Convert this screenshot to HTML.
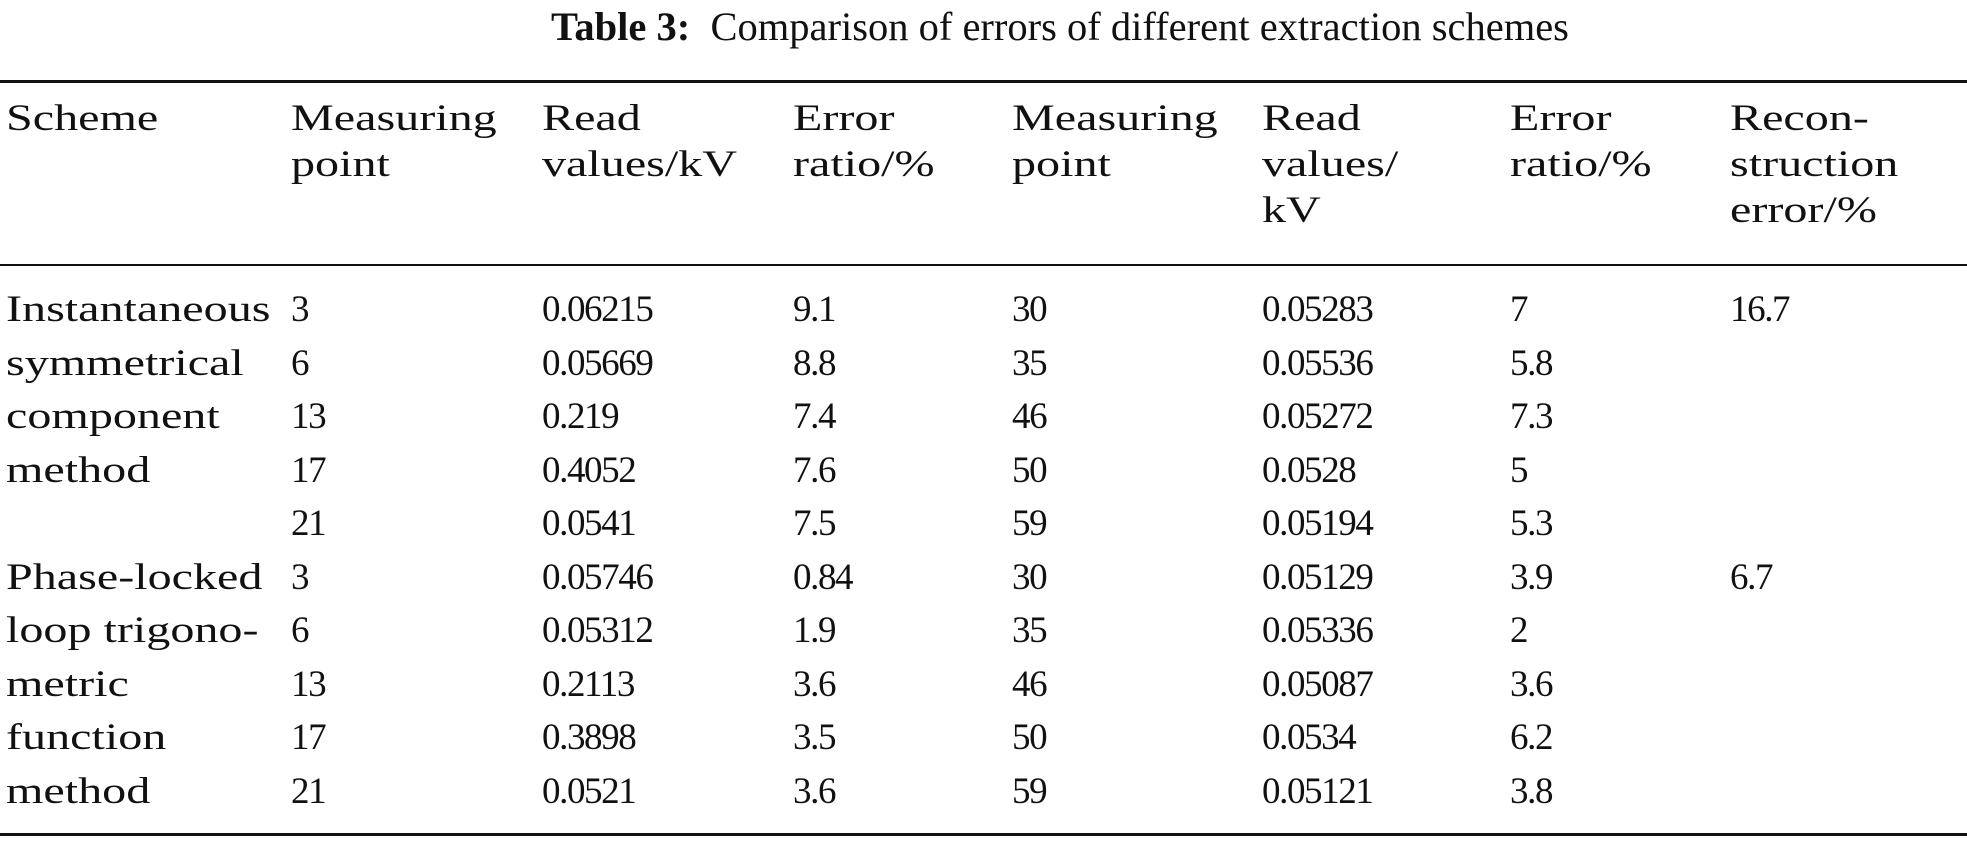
<!DOCTYPE html>
<html><head><meta charset="utf-8"><style>
html,body{margin:0;padding:0;background:#fff;}
#root{position:relative;width:1967px;height:842px;overflow:hidden;font-family:"Liberation Serif",serif;color:#111;}
.t{position:absolute;font-size:37px;white-space:nowrap;line-height:1;transform-origin:left bottom;}
.w{transform:scaleX(1.3);}
.n{letter-spacing:-1.4px;}
.rule{position:absolute;left:0;width:1967px;background:#111;}
#title{position:absolute;top:3px;left:0;width:2120px;text-align:center;font-size:40.5px;white-space:nowrap;}
</style></head><body>
<div id="root">
<div id="title"><b>Table 3:</b>&nbsp; Comparison of errors of different extraction schemes</div>
<div class="rule" style="top:80px;height:3px"></div>
<div class="rule" style="top:264px;height:2px"></div>
<div class="rule" style="top:833px;height:3px"></div>
</div>
<script>
const colX=[6,291,542,793,1012,1262,1510,1730];
const headers=[["Scheme"],["Measuring","point"],["Read","values/kV"],["Error","ratio/%"],["Measuring","point"],["Read","values/","kV"],["Error","ratio/%"],["Recon-","struction","error/%"]];
const schemeText=["Instantaneous","symmetrical","component","method","","Phase-locked","loop trigono-","metric","function","method"];
const pointsA=["3","6","13","17","21","3","6","13","17","21"];
const readA=["0.06215","0.05669","0.219","0.4052","0.0541","0.05746","0.05312","0.2113","0.3898","0.0521"];
const errA=["9.1","8.8","7.4","7.6","7.5","0.84","1.9","3.6","3.5","3.6"];
const pointsB=["30","35","46","50","59","30","35","46","50","59"];
const readB=["0.05283","0.05536","0.05272","0.0528","0.05194","0.05129","0.05336","0.05087","0.0534","0.05121"];
const errB=["7","5.8","7.3","5","5.3","3.9","2","3.6","6.2","3.8"];
const recon=["16.7","","","","","6.7","","","",""];
const root=document.getElementById('root');
function add(txt,x,base,name){
  const d=document.createElement('div');
  d.className='t '+(/[a-zA-Z]/.test(txt)?'w':'n');d.textContent=txt;
  d.style.left=x+'px';d.style.top=(base-29)+'px';
  
  
  root.appendChild(d);
}
headers.forEach((h,c)=>h.forEach((line,i)=>add(line,colX[c],129+i*46,'header-cell')));
const cols=[schemeText,pointsA,readA,errA,pointsB,readB,errB,recon];
for(let r=0;r<10;r++){
  cols.forEach((col,c)=>{ if(col[r]) add(col[r],colX[c],320+r*53.5,'data-cell'); });
}
</script>
</body></html>
